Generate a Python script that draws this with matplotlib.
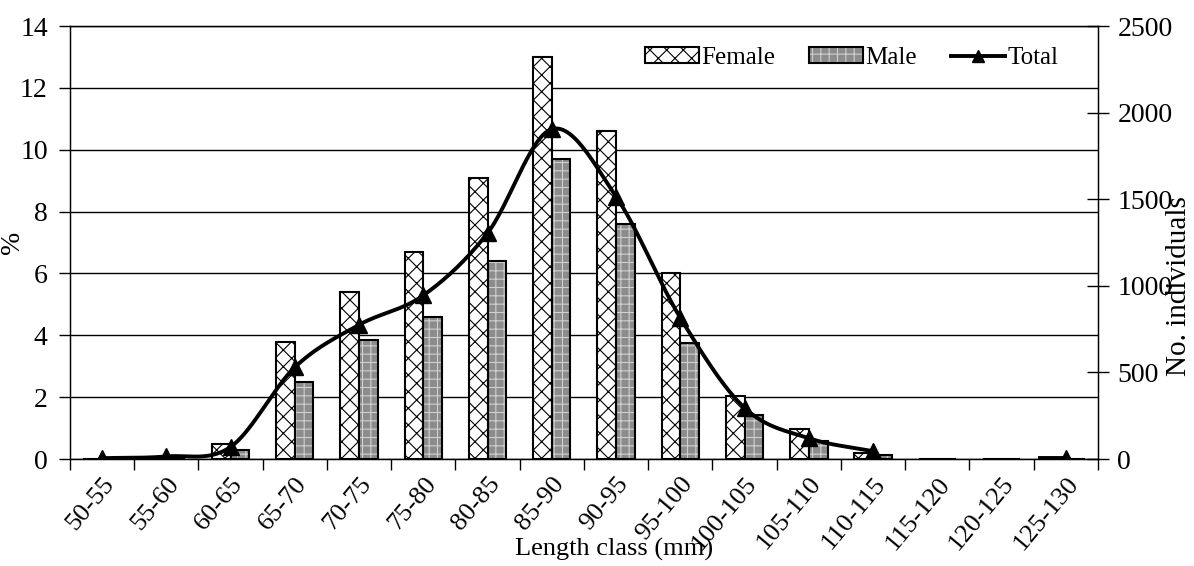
import numpy as np
import matplotlib.pyplot as plt
import matplotlib.transforms as mtransforms
from matplotlib.patches import Patch

plt.rcParams['font.family'] = ['Liberation Serif', 'DejaVu Serif']
plt.rcParams['hatch.linewidth'] = 0.8

# length classes (mm)
classes = ['50-55', '55-60', '60-65', '65-70', '70-75', '75-80', '80-85', '85-90',
           '90-95', '95-100', '100-105', '105-110', '110-115', '115-120', '120-125', '125-130']
# percentage per class
female = [0, 0, 0.5, 3.8, 5.4, 6.7, 9.1, 13.0, 10.6, 6.0, 2.05, 0.97, 0.18, 0, 0, 0]
male = [0, 0, 0.3, 2.5, 3.85, 4.6, 6.4, 9.7, 7.6, 3.75, 1.42, 0.58, 0.12, 0, 0, 0]
# number of individuals (right axis); None = no point
total = [5, 15, 70, 530, 775, 945, 1305, 1905, 1515, 815, 295, 120, 45, None, None, 5]


def smooth(xs, ys, n=30):
    # catmull-rom curve through the points, like Excel's smoothed line
    xs = np.asarray(xs, float)
    ys = np.asarray(ys, float)
    px = np.concatenate([[2 * xs[0] - xs[1]], xs, [2 * xs[-1] - xs[-2]]])
    py = np.concatenate([[2 * ys[0] - ys[1]], ys, [2 * ys[-1] - ys[-2]]])
    out_x, out_y = [], []
    t = np.linspace(0, 1, n)
    for i in range(1, len(px) - 2):
        for p, o in ((px, out_x), (py, out_y)):
            p0, p1, p2, p3 = p[i - 1], p[i], p[i + 1], p[i + 2]
            o.extend(0.5 * (2 * p1 + (-p0 + p2) * t + (2 * p0 - 5 * p1 + 4 * p2 - p3) * t ** 2
                            + (-p0 + 3 * p1 - 3 * p2 + p3) * t ** 3))
    return out_x, out_y


x = np.arange(len(classes))
w = 0.29

fig, ax = plt.subplots(figsize=(11.94, 5.66), dpi=100)
fig.subplots_adjust(left=0.0586, right=0.9196, bottom=0.189, top=0.954)

ax.bar(x - w / 2, female, w, color='white', edgecolor='black', linewidth=1.5,
       hatch='xx', zorder=2)
# male: grey with light stipple, then black outline
ax.bar(x + w / 2, male, w, color='#8c8c8c', edgecolor='#d0d0d0', linewidth=0,
       hatch='++', zorder=2)
ax.bar(x + w / 2, male, w, fill=False, edgecolor='black', linewidth=1.5, zorder=2)

ax.set_ylim(0, 14)
ax.set_yticks(np.arange(0, 15, 2))
ax.set_xlim(-0.5, len(classes) - 0.5)
ax.set_xticks(x)
ax.set_xticklabels(classes, rotation=50, ha='right', rotation_mode='anchor', fontsize=19)
shift = mtransforms.ScaledTranslation(-6 / 100, 0, fig.dpi_scale_trans)
for lab in ax.get_xticklabels():
    lab.set_transform(lab.get_transform() + shift)
ax.set_xticks(np.arange(-0.5, len(classes), 1), minor=True)
ax.tick_params(axis='x', which='major', length=0, pad=10)
ax.tick_params(axis='x', which='minor', length=8, direction='out', width=1)
ax.tick_params(axis='y', labelsize=20, length=8, direction='out', width=1, pad=8)
ax.grid(axis='y', color='black', linewidth=1, zorder=0)
ax.set_axisbelow(True)
ax.set_ylabel('%', fontsize=20)
ax.yaxis.set_label_coords(-0.044, 0.5)
ax.set_xlabel('Length class (mm)', fontsize=19)
ax.xaxis.set_label_coords(0.529, -0.183)
for s in ax.spines.values():
    s.set_linewidth(1)

ax2 = ax.twinx()
ax2.set_ylim(0, 2500)
ax2.set_yticks(np.arange(0, 2501, 500))
ax2.tick_params(axis='y', labelsize=20, length=16, direction='inout', width=1, pad=6)
ax2.set_ylabel('No. individuals', fontsize=21)
ax2.yaxis.set_label_coords(1.066, 0.4)

# smoothed line over the continuous run of points
run_x = [i for i in x if total[i] is not None and i <= 12]
run_y = [total[i] for i in run_x]
sx, sy = smooth(run_x, run_y)
ax2.plot(sx, sy, color='black', linewidth=2.8, zorder=3)
pts_x = [i for i in x if total[i] is not None]
pts_y = [total[i] for i in pts_x]
ax2.plot(pts_x, pts_y, linestyle='none', marker='^', markersize=11, color='black', zorder=4)
ax2.plot([14.6, 15], [total[15], total[15]], color='black', linewidth=2.8)

fem_h = Patch(facecolor='white', edgecolor='black', hatch='xx', linewidth=1.5)
male_h = (Patch(facecolor='#8c8c8c', edgecolor='#d0d0d0', hatch='++', linewidth=0),
          Patch(fill=False, edgecolor='black', linewidth=1.5))
line_h = plt.Line2D([], [], color='black', linewidth=2.8, marker='^', markersize=9)
ax.legend([fem_h, male_h, line_h], ['Female', 'Male', 'Total'], loc='upper right', ncol=3,
          frameon=False, fontsize=18, bbox_to_anchor=(0.983, 1.004), handlelength=2.15,
          handleheight=0.56, handletextpad=0.1, columnspacing=1.35)

fig.savefig('out.png', dpi=100)
